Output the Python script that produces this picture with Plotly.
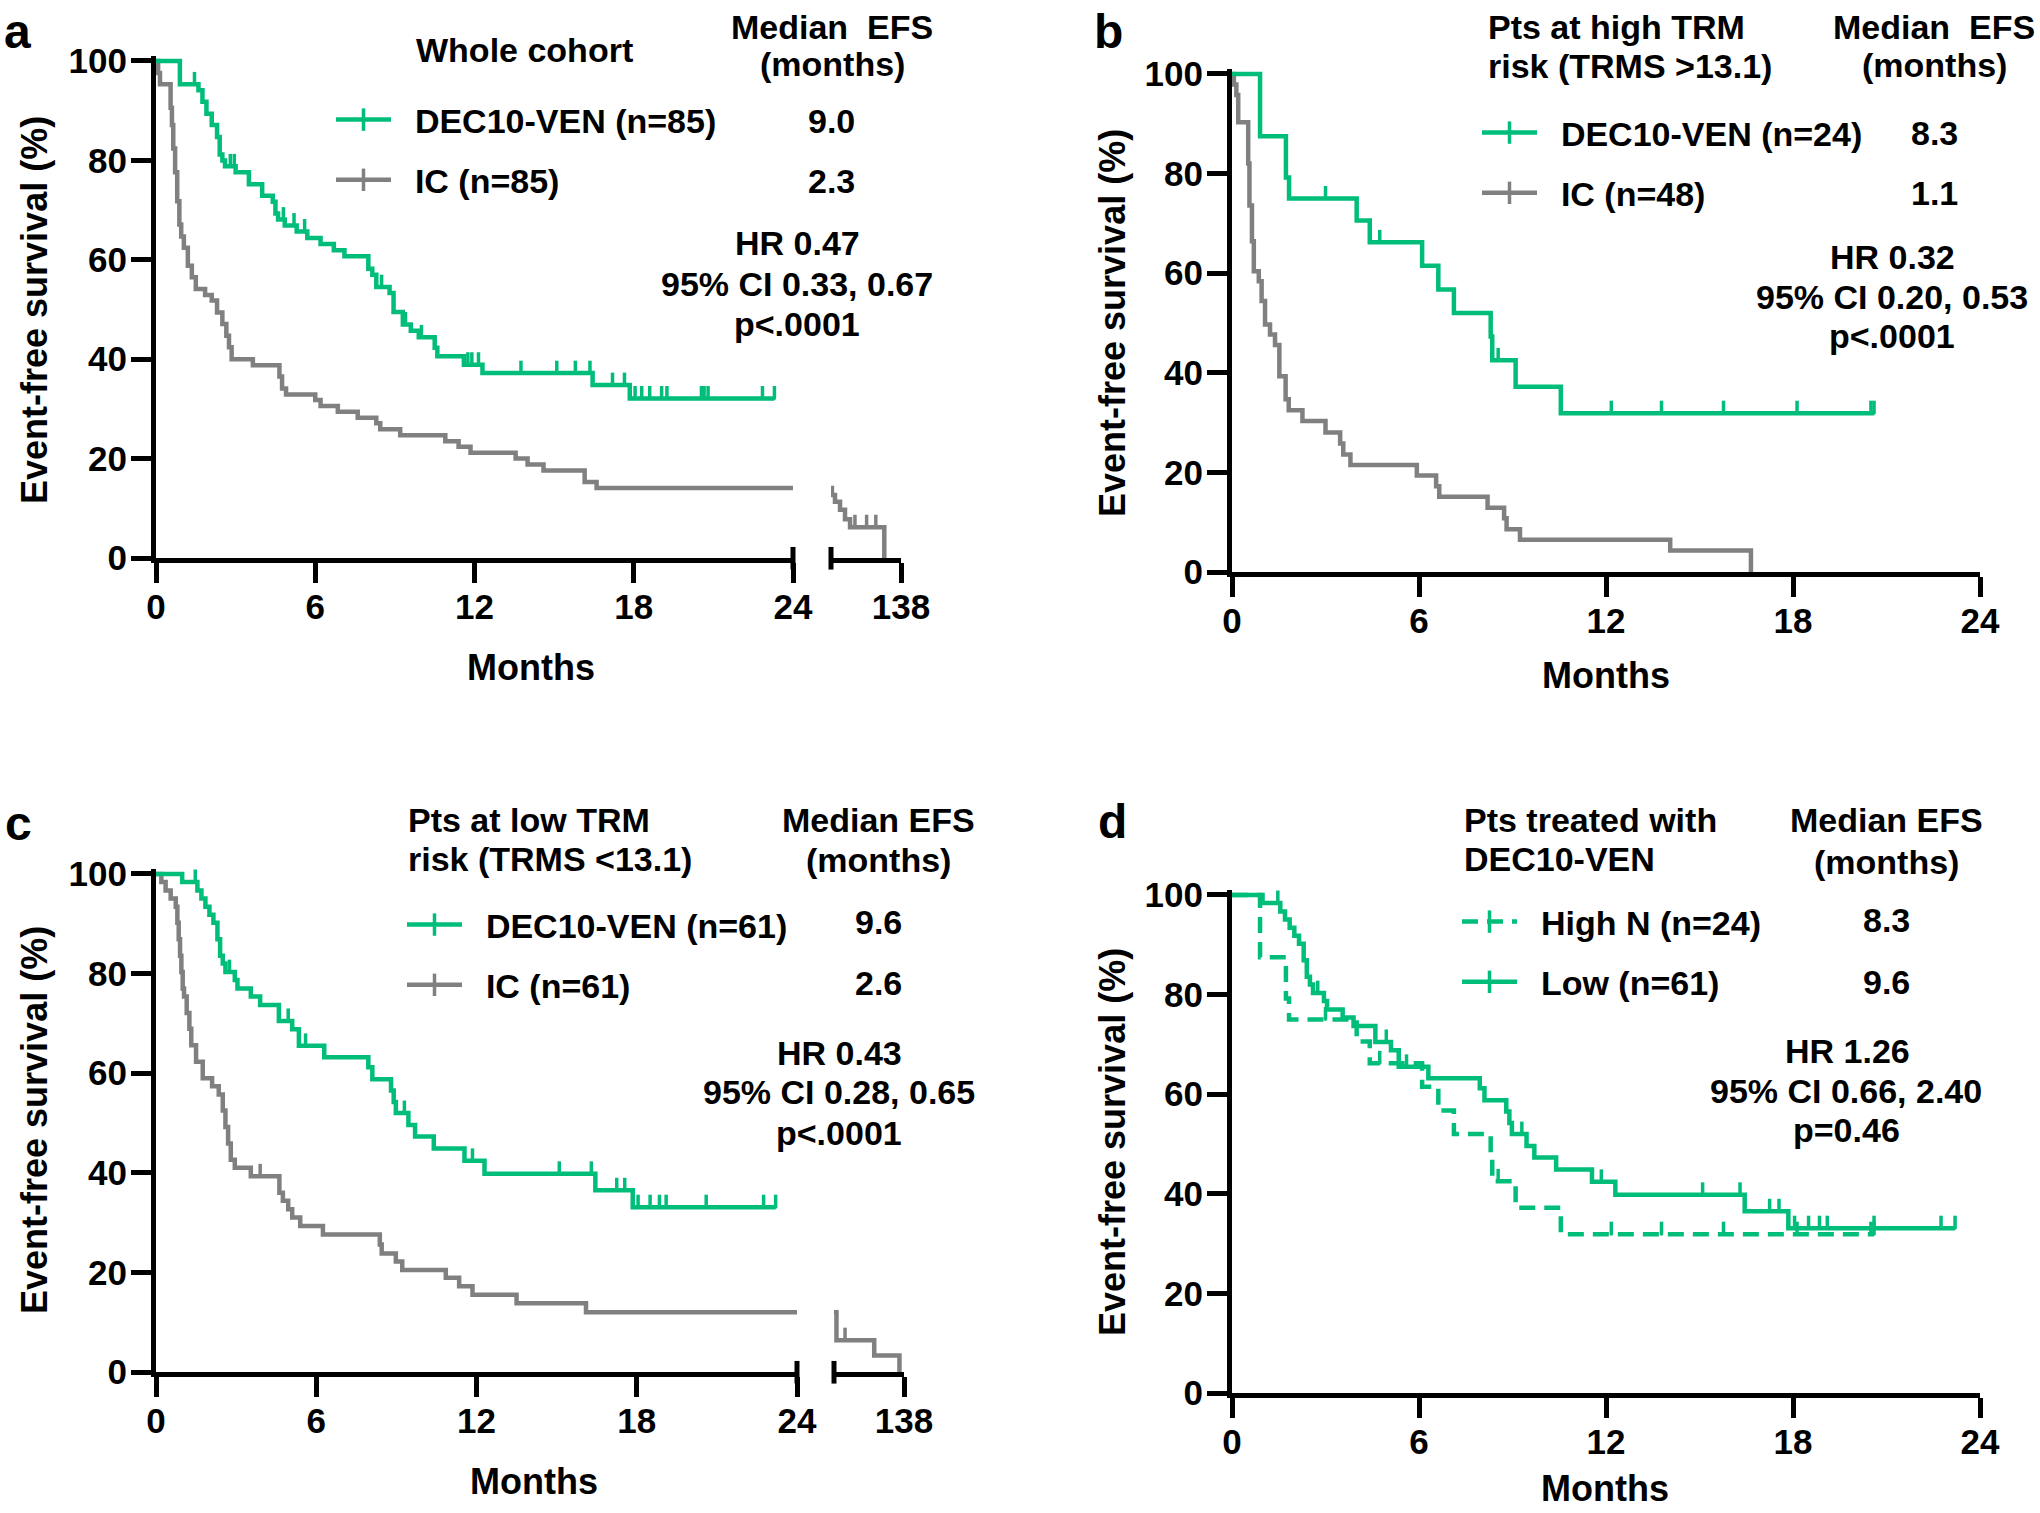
import numpy as np
import plotly.graph_objects as go

W, H = 2040, 1513
GREEN = "#00BE79"
GRAY = "#808080"
FONT = "Liberation Sans"

# ---------------- data ----------------
# Panel a: whole cohort
a_ven_time = [0, 0.9, 1.6, 1.75, 1.9, 2.1, 2.3, 2.4, 2.5, 2.6, 3.0, 3.5, 4.0, 4.4, 4.5, 4.6, 4.85,
              5.3, 5.7, 6.2, 6.7, 7.1, 8.0, 8.15, 8.3, 8.8, 8.95, 9.3, 9.6, 9.9, 10.5, 10.6, 11.6,
              12.3, 16.45, 17.85]
a_ven_surv = [100, 95.3, 94.1, 91.8, 89.4, 87.1, 84.7, 81.2, 80.0, 78.8, 77.6, 75.2, 72.9, 71.7, 69.3,
              68.1, 66.9, 65.7, 64.4, 63.2, 61.9, 60.7, 58.2, 57.0, 54.5, 53.3, 49.5, 47.0, 45.7, 44.4,
              42.3, 40.6, 38.9, 37.2, 34.8, 32.1]
a_ven_end = 23.3
a_ven_cens = [1.45, 2.8, 2.95, 4.8, 5.2, 5.6, 8.5, 9.4, 10.0, 11.75, 11.9, 12.15, 13.75, 15.1, 15.8,
              16.35, 17.2, 17.65, 18.05, 18.3, 18.6, 19.05, 19.25, 20.55, 20.65, 20.8, 22.85, 23.3]

a_ic_time = [0, 0.08, 0.15, 0.55, 0.6, 0.65, 0.72, 0.8, 0.88, 0.95, 1.05, 1.2, 1.35, 1.5, 1.85, 2.1,
             2.3, 2.5, 2.65, 2.75, 2.85, 3.65, 4.65, 4.75, 4.9, 6.0, 6.2, 6.85, 7.6, 8.3, 8.45, 9.2,
             10.9, 11.4, 11.85, 13.55, 14.0, 14.6, 16.15, 16.6]
a_ic_surv = [100, 97.6, 95.3, 90.6, 87.1, 82.4, 77.6, 71.8, 67.1, 64.7, 62.4, 58.8, 56.5, 54.1, 52.9,
             51.8, 49.4, 47.1, 44.7, 42.4, 40.0, 38.8, 36.5, 34.1, 32.9, 31.8, 30.6, 29.4, 28.2, 27.1,
             25.9, 24.7, 23.5, 22.4, 21.2, 20.0, 18.8, 17.6, 15.3, 14.1]
a_ic_end = 24
a_ic_late_time = [24, 25.5, 30.5, 38.7, 46.8, 55, 110.8]
a_ic_late_surv = [14.1, 12.7, 11.3, 9.7, 7.8, 6.2, 0]
a_ic_late_end = 110.8
a_ic_late_cens = [63, 82, 97]

# Panel b: high TRM risk
b_ven_time = [0, 0.9, 1.73, 1.83, 4.0, 4.42, 6.1, 6.62, 7.12, 8.3, 8.35, 9.1, 10.55]
b_ven_surv = [100, 87.5, 79.2, 75.0, 70.6, 66.2, 61.5, 56.7, 52.0, 47.3, 42.5, 37.2, 31.9]
b_ven_end = 20.6
b_ven_cens = [3.0, 4.74, 8.54, 12.17, 13.78, 15.77, 18.13, 20.5, 20.6]

b_ic_time = [0, 0.06, 0.14, 0.2, 0.52, 0.56, 0.64, 0.7, 0.86, 0.95, 1.06, 1.22, 1.38, 1.52, 1.72,
             1.82, 2.26, 3.0, 3.47, 3.57, 3.8, 5.93, 6.55, 6.65, 8.2, 8.73, 8.81, 9.24, 14.06, 16.65]
b_ic_surv = [100, 97.9, 95.8, 90.3, 82.0, 73.6, 66.4, 60.4, 58.4, 54.4, 49.7, 47.7, 45.6, 39.3, 34.7,
             32.5, 30.3, 28.0, 25.8, 23.6, 21.5, 19.4, 17.2, 15.1, 12.9, 10.8, 8.6, 6.5, 4.3, 0]
b_ic_end = 16.65

# Panel c: low TRM risk
c_ven_time = [0, 0.98, 1.55, 1.7, 1.85, 2.0, 2.15, 2.3, 2.4, 2.5, 2.6, 2.95, 3.05, 3.55, 3.9, 4.6,
              5.1, 5.35, 6.3, 7.95, 8.1, 8.8, 8.9, 8.98, 9.45, 9.7, 10.4, 11.55, 12.3, 16.45, 17.85]
c_ven_surv = [100, 98.4, 96.7, 95.1, 93.4, 91.8, 90.2, 86.9, 83.6, 82.0, 80.3, 78.7, 77.0, 75.4, 73.7,
              70.5, 68.8, 65.5, 63.2, 61.2, 58.8, 56.5, 54.2, 52.0, 49.6, 47.3, 44.9, 42.4, 39.8, 36.5,
              33.1]
c_ven_end = 23.2
c_ven_cens = [1.47, 2.75, 4.95, 5.6, 9.3, 11.85, 15.1, 16.3, 17.25, 17.55, 18.05, 18.5, 18.85, 19.1,
              20.6, 22.75, 23.2]

c_ic_time = [0, 0.2, 0.36, 0.55, 0.74, 0.8, 0.85, 0.9, 0.95, 1.0, 1.05, 1.15, 1.25, 1.32, 1.5, 1.75,
             2.1, 2.35, 2.5, 2.6, 2.7, 2.8, 2.95, 3.55, 4.62, 4.75, 4.95, 5.1, 5.4, 6.25, 8.38, 8.45,
             8.98, 9.22, 10.85, 11.35, 11.85, 13.5, 16.1]
c_ic_surv = [100, 98.4, 96.7, 95.1, 93.4, 90.2, 86.9, 83.6, 80.3, 77.0, 75.4, 72.1, 68.9, 65.6, 62.3,
             59.0, 57.4, 55.7, 52.5, 49.2, 45.9, 42.6, 41.0, 39.3, 36.0, 34.4, 32.7, 31.0, 29.3, 27.6,
             25.6, 23.8, 22.2, 20.5, 18.9, 17.2, 15.5, 13.8, 12.0]
c_ic_end = 24
c_ic_cens = [3.9]
c_ic_late_time = [24, 28, 89.5, 130.6]
c_ic_late_surv = [12.0, 6.4, 3.3, 0]
c_ic_late_end = 130.6
c_ic_late_cens = [42]

# Panel d: DEC10-VEN by TRM risk (same patients as the DEC10-VEN arms of b and c)
d_high_time, d_high_surv, d_high_end, d_high_cens = b_ven_time, b_ven_surv, b_ven_end, b_ven_cens
d_low_time, d_low_surv, d_low_end, d_low_cens = c_ven_time, c_ven_surv, c_ven_end, c_ven_cens

x_ticks = [0, 6, 12, 18, 24]
y_ticks = [0, 20, 40, 60, 80, 100]

LW = 4.5


def px(v):
    return v / W


def py(v):
    return 1 - v / H


fig = go.Figure()


def add_curve(t, s, end, color, xa, ya, dash="solid", cens=None):
    fig.add_trace(go.Scatter(
        x=list(t) + [end], y=list(s) + [s[-1]], mode="lines",
        line=dict(color=color, width=LW, shape="hv", dash=dash),
        xaxis=xa, yaxis=ya, showlegend=False, hoverinfo="skip"))
    if cens:
        idx = np.searchsorted(np.asarray(t, float), np.asarray(cens, float), side="right") - 1
        cy = np.asarray(s, float)[idx]
        n = len(cens)
        fig.add_trace(go.Scatter(
            x=list(cens), y=list(cy), mode="markers",
            marker=dict(size=3, color=color),
            error_y=dict(type="data", symmetric=False, array=[2.5] * n, arrayminus=[0.0] * n,
                         width=0, thickness=3.5, color=color),
            xaxis=xa, yaxis=ya, showlegend=False, hoverinfo="skip"))


def add_legend(name, color, legend, group, dash="solid"):
    fig.add_trace(go.Scatter(
        x=[None], y=[None], mode="lines+markers", name="\u00a0\u00a0" + name,
        line=dict(color=color, width=LW, dash=dash),
        marker=dict(symbol="line-ns", size=16, color=color, line=dict(width=3.5, color=color)),
        legend=legend, legendgroup=group, showlegend=True, hoverinfo="skip"))


DASH = "16px,9px"

# panel a
add_curve(a_ic_time, a_ic_surv, a_ic_end, GRAY, "x", "y")
add_curve(a_ic_late_time, a_ic_late_surv, a_ic_late_end, GRAY, "x2", "y", cens=a_ic_late_cens)
add_curve(a_ven_time, a_ven_surv, a_ven_end, GREEN, "x", "y", cens=a_ven_cens)
# panel b
add_curve(b_ic_time, b_ic_surv, b_ic_end, GRAY, "x3", "y2")
add_curve(b_ven_time, b_ven_surv, b_ven_end, GREEN, "x3", "y2", cens=b_ven_cens)
# panel c
add_curve(c_ic_time, c_ic_surv, c_ic_end, GRAY, "x4", "y3", cens=c_ic_cens)
add_curve(c_ic_late_time, c_ic_late_surv, c_ic_late_end, GRAY, "x5", "y3", cens=c_ic_late_cens)
add_curve(c_ven_time, c_ven_surv, c_ven_end, GREEN, "x4", "y3", cens=c_ven_cens)
# panel d
add_curve(d_high_time, d_high_surv, d_high_end, GREEN, "x6", "y4", dash=DASH, cens=d_high_cens)
add_curve(d_low_time, d_low_surv, d_low_end, GREEN, "x6", "y4", cens=d_low_cens)

# legends
add_legend("DEC10-VEN (n=85)", GREEN, "legend", "a1")
add_legend("IC (n=85)", GRAY, "legend", "a2")
add_legend("DEC10-VEN (n=24)", GREEN, "legend2", "b1")
add_legend("IC (n=48)", GRAY, "legend2", "b2")
add_legend("DEC10-VEN (n=61)", GREEN, "legend3", "c1")
add_legend("IC (n=61)", GRAY, "legend3", "c2")
add_legend("High N (n=24)", GREEN, "legend4", "d1", dash=DASH)
add_legend("Low (n=61)", GREEN, "legend4", "d2")

TICKFONT = dict(family=FONT, size=35, color="black", weight="bold")
AX = dict(showline=True, linewidth=5, linecolor="black", ticks="outside", ticklen=20, tickwidth=5,
          tickcolor="black", showgrid=False, zeroline=False, fixedrange=True, tickfont=TICKFONT,
          automargin=False)


def xax(d0, d1, anchor, rng, vals):
    return dict(AX, domain=[px(d0), px(d1)], anchor=anchor, range=rng, tickmode="array",
                tickvals=vals, ticklabelstandoff=-6)


def yax(bottom, top, anchor):
    return dict(AX, domain=[py(bottom), py(top)], anchor=anchor, range=[0, 101], tickmode="array",
                tickvals=y_ticks, ticklabelstandoff=-3)


def legend_cfg(x, y):
    return dict(x=px(x), y=py(y), xanchor="left", yanchor="middle", traceorder="grouped",
                tracegroupgap=13, font=dict(family=FONT, size=34, color="black", weight="bold"),
                bgcolor="rgba(0,0,0,0)", borderwidth=0, itemwidth=55, itemclick=False,
                itemdoubleclick=False)


def ann(text, x, y, size=34, xanchor="center", angle=0):
    return dict(text=text, x=px(x), y=py(y), xref="paper", yref="paper", xanchor=xanchor,
                yanchor="middle", showarrow=False, textangle=angle,
                font=dict(family=FONT, size=size, color="black", weight="bold"))


def cap(xref, xpos, yref):
    return dict(type="line", xref=xref + " domain", x0=xpos, x1=xpos, yref=yref + " domain",
                y0=-0.023, y1=0.022, line=dict(color="black", width=5))


annotations = [
    # panel a
    ann("a", 17, 31, size=48),
    ann("Whole cohort", 524, 50),
    ann("Median\u00a0 EFS", 832, 27),
    ann("(months)", 832, 64),
    ann("9.0", 831, 121),
    ann("2.3", 831, 181),
    ann("HR 0.47", 797, 243),
    ann("95% CI 0.33, 0.67", 797, 284),
    ann("p&lt;.0001", 797, 324),
    ann("Event-free survival (%)", 34, 310, size=36, angle=-90),
    ann("Months", 531, 667, size=36),
    # panel b
    ann("b", 1108, 31, size=48),
    ann("Pts at high TRM", 1486, 27, xanchor="left"),
    ann("risk (TRMS &gt;13.1)", 1486, 66, xanchor="left"),
    ann("Median\u00a0 EFS", 1934, 27),
    ann("(months)", 1934, 65),
    ann("8.3", 1934, 133),
    ann("1.1", 1934, 193),
    ann("HR 0.32", 1892, 257),
    ann("95% CI 0.20, 0.53", 1892, 297),
    ann("p&lt;.0001", 1892, 336),
    ann("Event-free survival (%)", 1113, 323, size=36, angle=-90),
    ann("Months", 1606, 675, size=36),
    # panel c
    ann("c", 18, 824, size=48),
    ann("Pts at low TRM", 406, 820, xanchor="left"),
    ann("risk (TRMS &lt;13.1)", 406, 859, xanchor="left"),
    ann("Median EFS", 878, 820),
    ann("(months)", 878, 860),
    ann("9.6", 878, 922),
    ann("2.6", 878, 983),
    ann("HR 0.43", 839, 1053),
    ann("95% CI 0.28, 0.65", 839, 1092),
    ann("p&lt;.0001", 839, 1133),
    ann("Event-free survival (%)", 34, 1120, size=36, angle=-90),
    ann("Months", 534, 1481, size=36),
    # panel d
    ann("d", 1112, 821, size=48),
    ann("Pts treated with", 1462, 820, xanchor="left"),
    ann("DEC10-VEN", 1462, 859, xanchor="left"),
    ann("Median EFS", 1886, 820),
    ann("(months)", 1886, 862),
    ann("8.3", 1886, 920),
    ann("9.6", 1886, 982),
    ann("HR 1.26", 1847, 1051),
    ann("95% CI 0.66, 2.40", 1846, 1091),
    ann("p=0.46", 1846, 1130),
    ann("Event-free survival (%)", 1112, 1142, size=36, angle=-90),
    ann("Months", 1605, 1488, size=36),
]

fig.update_layout(
    width=W, height=H, autosize=False,
    margin=dict(l=0, r=0, t=0, b=0, pad=0, autoexpand=False),
    paper_bgcolor="white", plot_bgcolor="white",
    font=dict(family=FONT, color="black"),
    showlegend=True,
    xaxis=xax(156, 793, "y", [0, 24], x_ticks),
    xaxis2=xax(831, 901, "y", [24, 138], [138]),
    yaxis=yax(558, 56, "x"),
    xaxis3=xax(1232, 1980, "y2", [0, 24], x_ticks),
    yaxis2=yax(572, 69, "x3"),
    xaxis4=xax(156, 797, "y3", [0, 24], x_ticks),
    xaxis5=xax(834, 904, "y3", [24, 138], [138]),
    yaxis3=yax(1372, 869, "x4"),
    xaxis6=xax(1232, 1980, "y4", [0, 24], x_ticks),
    yaxis4=yax(1393, 890, "x6"),
    legend=legend_cfg(331, 150),
    legend2=legend_cfg(1477, 163),
    legend3=legend_cfg(402, 955),
    legend4=legend_cfg(1457, 952),
    annotations=annotations,
    shapes=[cap("x", 1, "y"), cap("x2", 0, "y"), cap("x4", 1, "y3"), cap("x5", 0, "y3")],
)

fig.write_html(
    "out.html",
    config={"displayModeBar": False},
    post_script="document.body.style.margin='0';document.body.style.padding='0';"
                "document.documentElement.style.overflow='hidden';",
)
